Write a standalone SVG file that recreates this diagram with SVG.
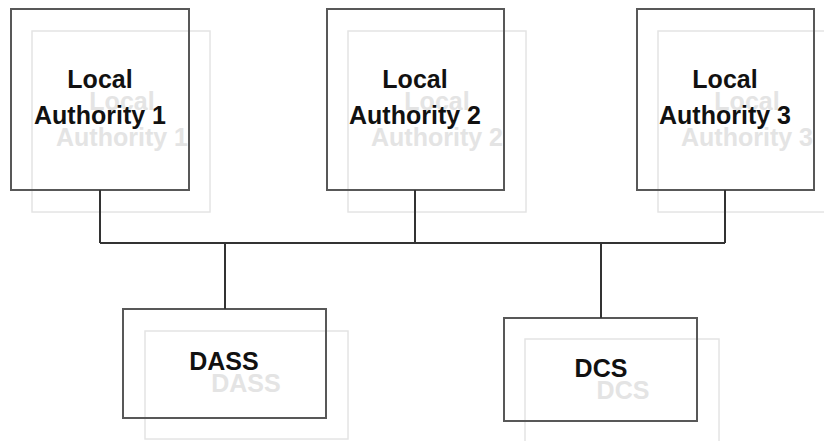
<svg xmlns="http://www.w3.org/2000/svg" width="824" height="441" viewBox="0 0 824 441">
<style>
.box{fill:none;stroke:#585858;stroke-width:2}
.ghost{fill:none;stroke:#e4e4e4;stroke-width:1.5}
.t{font-family:"Liberation Sans",Arial,sans-serif;font-weight:bold;font-size:25px;fill:#111;text-anchor:middle}
.gt{font-family:"Liberation Sans",Arial,sans-serif;font-weight:bold;font-size:25px;fill:#e4e4e4;text-anchor:middle}
.c{fill:none;stroke:#333;stroke-width:2}
</style>
<defs>
<clipPath id="c1"><rect x="0" y="0" width="190" height="441"/></clipPath>
<clipPath id="c2"><rect x="0" y="0" width="505" height="441"/></clipPath>
<clipPath id="c3"><rect x="0" y="0" width="815" height="441"/></clipPath>
</defs>
<rect width="824" height="441" fill="#fff"/>
<g id="la1">
<rect class="ghost" x="32" y="31" width="178" height="181"/>
<g clip-path="url(#c1)"><text class="gt" x="122" y="110">Local</text><text class="gt" x="122" y="146">Authority 1</text></g>
<rect class="box" x="11" y="9" width="178" height="181"/>
<text class="t" x="100" y="88">Local</text><text class="t" x="100" y="124">Authority 1</text>
</g>
<g id="la2">
<rect class="ghost" x="348" y="31" width="178" height="181"/>
<g clip-path="url(#c2)"><text class="gt" x="437" y="110">Local</text><text class="gt" x="437" y="146">Authority 2</text></g>
<rect class="box" x="327" y="9" width="177" height="181"/>
<text class="t" x="415" y="88">Local</text><text class="t" x="415" y="124">Authority 2</text>
</g>
<g id="la3">
<rect class="ghost" x="658" y="31" width="178" height="181"/>
<g clip-path="url(#c3)"><text class="gt" x="747" y="110">Local</text><text class="gt" x="747" y="146">Authority 3</text></g>
<rect class="box" x="637" y="9" width="177" height="181"/>
<text class="t" x="725" y="88">Local</text><text class="t" x="725" y="124">Authority 3</text>
</g>
<g id="dass">
<rect class="ghost" x="145" y="331" width="203" height="108"/>
<text class="gt" x="246" y="392">DASS</text>
<rect class="box" x="123" y="309" width="203" height="109"/>
<text class="t" x="224" y="370">DASS</text>
</g>
<g id="dcs">
<rect class="ghost" x="525" y="339" width="194" height="108"/>
<text class="gt" x="623" y="399">DCS</text>
<rect class="box" x="504" y="318" width="193" height="103"/>
<text class="t" x="601" y="377">DCS</text>
</g>
<g id="connectors">
<path class="c" d="M100 190V243M415 190V243M725 190V243M100 243H725M225 243V309M601 243V318"/>
</g>
</svg>
